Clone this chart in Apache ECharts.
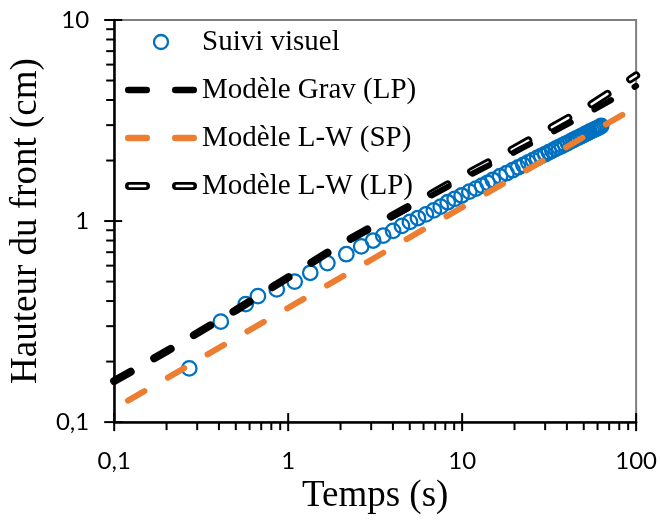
<!DOCTYPE html>
<html>
<head>
<meta charset="utf-8">
<script src="https://cdn.jsdelivr.net/npm/echarts@6/dist/echarts.min.js"></script>
<style>
html,body{margin:0;padding:0;background:#fff;}
#chart{width:660px;height:520px;}
#err{position:absolute;left:0;top:0;font:11px monospace;color:red;white-space:pre-wrap;width:660px;}
</style>
</head>
<body>
<div id="chart"></div>
<div id="err"></div>
<script>
// ---- data ----
var obsT = [0.27, 0.41, 0.57, 0.67, 0.86, 1.09, 1.34, 1.68, 2.16, 2.63, 3.08, 3.52, 4.01, 4.51, 5.01, 5.57, 6.19, 6.87, 7.53, 8.26, 9.06, 9.93, 11, 12, 13, 14, 15, 16.5, 18, 19.5, 21, 22.5, 24, 25.5, 27, 28.5, 30, 31.5, 33, 34.5, 36, 37.5, 39, 40.5, 42, 43.5, 45, 46.5, 48, 49.5, 51, 52.5, 54, 55.5, 57, 58.5, 60, 61.5, 63];
var obsH = [0.185, 0.316, 0.386, 0.423, 0.457, 0.50, 0.553, 0.618, 0.684, 0.748, 0.80, 0.846, 0.894, 0.946, 0.99, 1.035, 1.08, 1.13, 1.18, 1.24, 1.29, 1.34, 1.40, 1.45, 1.50, 1.55, 1.60, 1.67, 1.73, 1.79, 1.85, 1.90, 1.96, 2.01, 2.06, 2.11, 2.15, 2.20, 2.24, 2.29, 2.33, 2.37, 2.41, 2.45, 2.49, 2.53, 2.57, 2.60, 2.64, 2.67, 2.71, 2.74, 2.78, 2.81, 2.84, 2.87, 2.90, 2.93, 2.97];

var gravT = [0.1, 0.2, 0.5, 1, 2, 5, 10, 20, 50, 100];
var gravH = [0.16, 0.225, 0.36, 0.525, 0.76, 1.17, 1.62, 2.2, 3.35, 4.7];

var lwspT = [0.12, 0.2, 0.5, 1, 2, 5, 10, 20, 50, 90];
var lwspH = [0.128, 0.165, 0.262, 0.37, 0.523, 0.83, 1.17, 1.65, 2.62, 3.5];

var lwlpT = [0.1, 0.2, 0.5, 1, 2, 5, 10, 20, 50, 100];
var lwlpH = [0.16, 0.225, 0.36, 0.525, 0.765, 1.19, 1.67, 2.3, 3.6, 5.3];

var seriesNames = ['Suivi visuel', 'Modèle Grav (LP)', 'Modèle L-W (SP)', 'Modèle L-W (LP)'];

var xTickMajor = [0.1, 1, 10, 100];
var xTickLabels = ['0,1', '1', '10', '100'];
var xTickMinor = [0.2, 0.3, 0.4, 0.5, 0.6, 0.7, 0.8, 0.9, 2, 3, 4, 5, 6, 7, 8, 9, 20, 30, 40, 50, 60, 70, 80, 90];
var yTickMajor = [0.1, 1, 10];
var yTickLabels = ['0,1', '1', '10'];
var yTickMinor = [0.2, 0.3, 0.4, 0.5, 0.6, 0.7, 0.8, 0.9, 2, 3, 4, 5, 6, 7, 8, 9];

// ---- helpers ----
function pairs(a, b) { return a.map(function (v, i) { return [v, b[i]]; }); }
function labelFor(ticks, labels) {
  return function (v) {
    var best = 0, bd = Infinity;
    for (var i = 0; i < ticks.length; i++) {
      var d = Math.abs(Math.log10(v) - Math.log10(ticks[i]));
      if (d < bd) { bd = d; best = i; }
    }
    return labels[best];
  };
}
function report(msg) { document.getElementById('err').textContent += msg + '\n'; }

var BLUE = '#0070C0', ORANGE = '#ED7D31';
var DASH = [19, 27];
var TITLE_FONT = { fontFamily: 'Liberation Serif', fontSize: 37, color: '#000' };
var TICK_FONT = { fontFamily: 'Lato', fontSize: 24, color: '#000' };

var iconDash = 'path://M3.25,0 L21.75,0 A3.25,3.25 0 0 1 21.75,6.5 L3.25,6.5 A3.25,3.25 0 0 1 3.25,0 Z ' +
  'M50.25,0 L68.75,0 A3.25,3.25 0 0 1 68.75,6.5 L50.25,6.5 A3.25,3.25 0 0 1 50.25,0 Z';
var iconOutline = 'path://M4,0 L21,0 A4,4 0 0 1 21,8 L4,8 A4,4 0 0 1 4,0 Z ' +
  'M4.75,2.75 A1.25,1.25 0 0 0 4.75,5.25 L20.25,5.25 A1.25,1.25 0 0 0 20.25,2.75 Z ' +
  'M51,0 L68,0 A4,4 0 0 1 68,8 L51,8 A4,4 0 0 1 51,0 Z ' +
  'M51.75,2.75 A1.25,1.25 0 0 0 51.75,5.25 L67.25,5.25 A1.25,1.25 0 0 0 67.25,2.75 Z';

var chart = echarts.init(document.getElementById('chart'), null, { renderer: 'canvas' });
try {
chart.setOption({
  animation: false,
  grid: { left: 114, right: 23, top: 20, bottom: 88, show: true, borderColor: '#7f7f7f', borderWidth: 2 },
  legend: {
    orient: 'vertical', left: 125, top: 27, padding: 0,
    itemWidth: 72, itemHeight: 14, itemGap: 18,
    textStyle: { fontFamily: 'Liberation Serif', fontSize: 29, lineHeight: 30, color: '#000' },
    data: [
      { name: seriesNames[0], icon: 'circle', itemStyle: { color: 'rgba(0,0,0,0)', borderColor: BLUE, borderWidth: 2.3 } },
      { name: seriesNames[1], icon: iconDash, itemStyle: { color: '#000', borderWidth: 0 } },
      { name: seriesNames[2], icon: iconDash, itemStyle: { color: ORANGE, borderWidth: 0 } },
      { name: seriesNames[3], icon: iconOutline, itemStyle: { color: '#000', borderWidth: 0 } }
    ]
  },
  xAxis: {
    type: 'log', logBase: 10, min: 0.1, max: 100,
    name: 'Temps (s)', nameLocation: 'middle', nameGap: 55,
    nameTextStyle: TITLE_FONT,
    axisLine: { lineStyle: { color: '#000', width: 2.5 } },
    axisTick: { show: false },
    splitLine: { show: false },
    axisLabel: Object.assign({ margin: 27, formatter: labelFor(xTickMajor, xTickLabels) }, TICK_FONT)
  },
  yAxis: {
    type: 'log', logBase: 10, min: 0.1, max: 10,
    name: 'Hauteur du front (cm)', nameLocation: 'middle', nameGap: 60,
    nameTextStyle: TITLE_FONT,
    axisLine: { lineStyle: { color: '#000', width: 2.5 } },
    axisTick: { show: false },
    splitLine: { show: false },
    axisLabel: Object.assign({ margin: 25, formatter: labelFor(yTickMajor, yTickLabels) }, TICK_FONT)
  },
  series: [
    {
      type: 'line', name: seriesNames[3], data: pairs(lwlpT, lwlpH),
      showSymbol: false, symbol: 'none', color: '#000',
      lineStyle: { color: '#000', width: 8, type: DASH, cap: 'round' }
    },
    {
      type: 'line', name: 'lwlp-core', data: pairs(lwlpT, lwlpH),
      showSymbol: false, symbol: 'none', color: '#fff',
      lineStyle: { color: '#fff', width: 2.5, type: DASH, cap: 'round' }
    },
    {
      type: 'line', name: seriesNames[1], data: pairs(gravT, gravH),
      showSymbol: false, symbol: 'none', color: '#000',
      lineStyle: { color: '#000', width: 6, type: DASH, cap: 'round' }
    },
    {
      type: 'line', name: seriesNames[2], data: pairs(lwspT, lwspH),
      showSymbol: false, symbol: 'none', color: ORANGE,
      lineStyle: { color: ORANGE, width: 6, type: DASH, cap: 'round' }
    },
    {
      type: 'scatter', name: seriesNames[0], data: pairs(obsT, obsH),
      symbol: 'circle', symbolSize: 14.5, color: BLUE,
      itemStyle: { color: 'rgba(0,0,0,0)', borderColor: BLUE, borderWidth: 2.3, opacity: 1 }
    }
  ]
});
} catch (e) { report('main: ' + e + ' ' + (e.stack || '').split('\n').slice(0, 3).join(' | ')); }

// ---- tick marks: positions obtained from the chart's own log scales ----
try {
  var finder = { xAxisIndex: 0, yAxisIndex: 0 };
  var ticks = [];
  var seg = function (x1, y1, x2, y2) {
    ticks.push({ type: 'line', silent: true, z: 100, shape: { x1: x1, y1: y1, x2: x2, y2: y2 }, style: { stroke: '#000', lineWidth: 2 } });
  };
  xTickMajor.forEach(function (v) {
    var p = chart.convertToPixel(finder, [v, yTickMajor[0]]);
    seg(p[0], p[1] - 9, p[0], p[1] + 9);
  });
  xTickMinor.forEach(function (v) {
    var p = chart.convertToPixel(finder, [v, yTickMajor[0]]);
    seg(p[0], p[1], p[0], p[1] + 8);
  });
  yTickMajor.forEach(function (v) {
    var p = chart.convertToPixel(finder, [xTickMajor[0], v]);
    seg(p[0] - 10, p[1], p[0] + 8, p[1]);
  });
  yTickMinor.forEach(function (v) {
    var p = chart.convertToPixel(finder, [xTickMajor[0], v]);
    seg(p[0] - 8, p[1], p[0], p[1]);
  });
  chart.setOption({ graphic: { elements: ticks } });
} catch (e) { report('ticks: ' + e + ' ' + (e.stack || '').split('\n').slice(0, 3).join(' | ')); }
</script>
</body>
</html>
